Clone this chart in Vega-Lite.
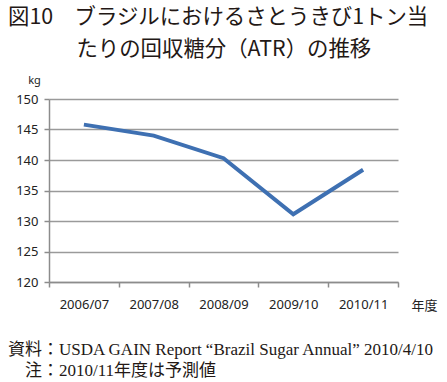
{
  "$schema": "https://vega.github.io/schema/vega-lite/v6.json",
  "padding": {"left": 8, "top": 6, "right": 9, "bottom": 2},
  "background": "white",
  "title": {
    "text": ["図10　ブラジルにおけるさとうきび1トン当", "\u200b　　　\u2009たりの回収糖分（ATR）の推移"],
    "anchor": "start",
    "font": "Noto Sans CJK JP",
    "fontSize": 21.4,
    "fontWeight": "normal",
    "lineHeight": 32,
    "color": "#231815",
    "offset": 14
  },
  "vconcat": [
    {
      "width": 349,
      "height": 183,
      "title": {
        "text": ["資料：USDA GAIN Report “Brazil Sugar Annual” 2010/4/10", "\u200b　注：2010/11年度は予測値"],
        "orient": "bottom",
        "anchor": "start",
        "frame": "group",
        "font": "Liberation Serif, Noto Sans CJK JP",
        "fontSize": 17,
        "fontWeight": "normal",
        "lineHeight": 21,
        "color": "#231815",
        "dx": -41,
        "offset": 30
      },
      "data": {
        "values": [
          {"year": "2006/07", "atr": 145.8},
          {"year": "2007/08", "atr": 144.0},
          {"year": "2008/09", "atr": 140.3},
          {"year": "2009/10", "atr": 131.1},
          {"year": "2010/11", "atr": 138.4}
        ]
      },
      "mark": {"type": "line", "color": "#3e70b2", "strokeWidth": 4},
      "encoding": {
        "x": {
          "field": "year",
          "type": "ordinal",
          "sort": null,
          "bandPosition": 0.5,
          "scale": {"type": "band", "paddingInner": 0, "paddingOuter": 0},
          "axis": {
            "title": "年度",
            "titleX": 375,
            "titleY": 27,
            "titleAlign": "center",
            "titleBaseline": "alphabetic",
            "titleFont": "Noto Sans CJK JP",
            "titleFontSize": 13,
            "titleFontWeight": "normal",
            "titleColor": "#222",
            "tickBand": "extent",
            "labelAngle": 0,
            "labelFont": "Noto Sans",
            "labelFontSize": 13,
            "labelColor": "#222",
            "labelPadding": 11,
            "tickSize": 5,
            "tickColor": "#8c8c8c",
            "tickWidth": 1.5,
            "domainColor": "#8c8c8c",
            "domainWidth": 1.5,
            "grid": false
          }
        },
        "y": {
          "field": "atr",
          "type": "quantitative",
          "scale": {"domain": [120, 150], "nice": false, "zero": false},
          "axis": {
            "title": "kg",
            "titleAngle": 0,
            "titleX": -15,
            "titleY": -16,
            "titleAlign": "center",
            "titleBaseline": "alphabetic",
            "titleFont": "Noto Sans",
            "titleFontSize": 11,
            "titleFontWeight": "normal",
            "titleColor": "#222",
            "values": [120, 125, 130, 135, 140, 145, 150],
            "labelFont": "Noto Sans",
            "labelFontSize": 13,
            "labelColor": "#222",
            "labelPadding": 6,
            "tickSize": 5,
            "tickColor": "#8c8c8c",
            "tickWidth": 1.5,
            "domainColor": "#8c8c8c",
            "domainWidth": 1.5,
            "grid": true,
            "gridColor": "#9a9a9a",
            "gridWidth": 1.5
          }
        }
      }
    }
  ],
  "config": {"view": {"stroke": null}}
}
